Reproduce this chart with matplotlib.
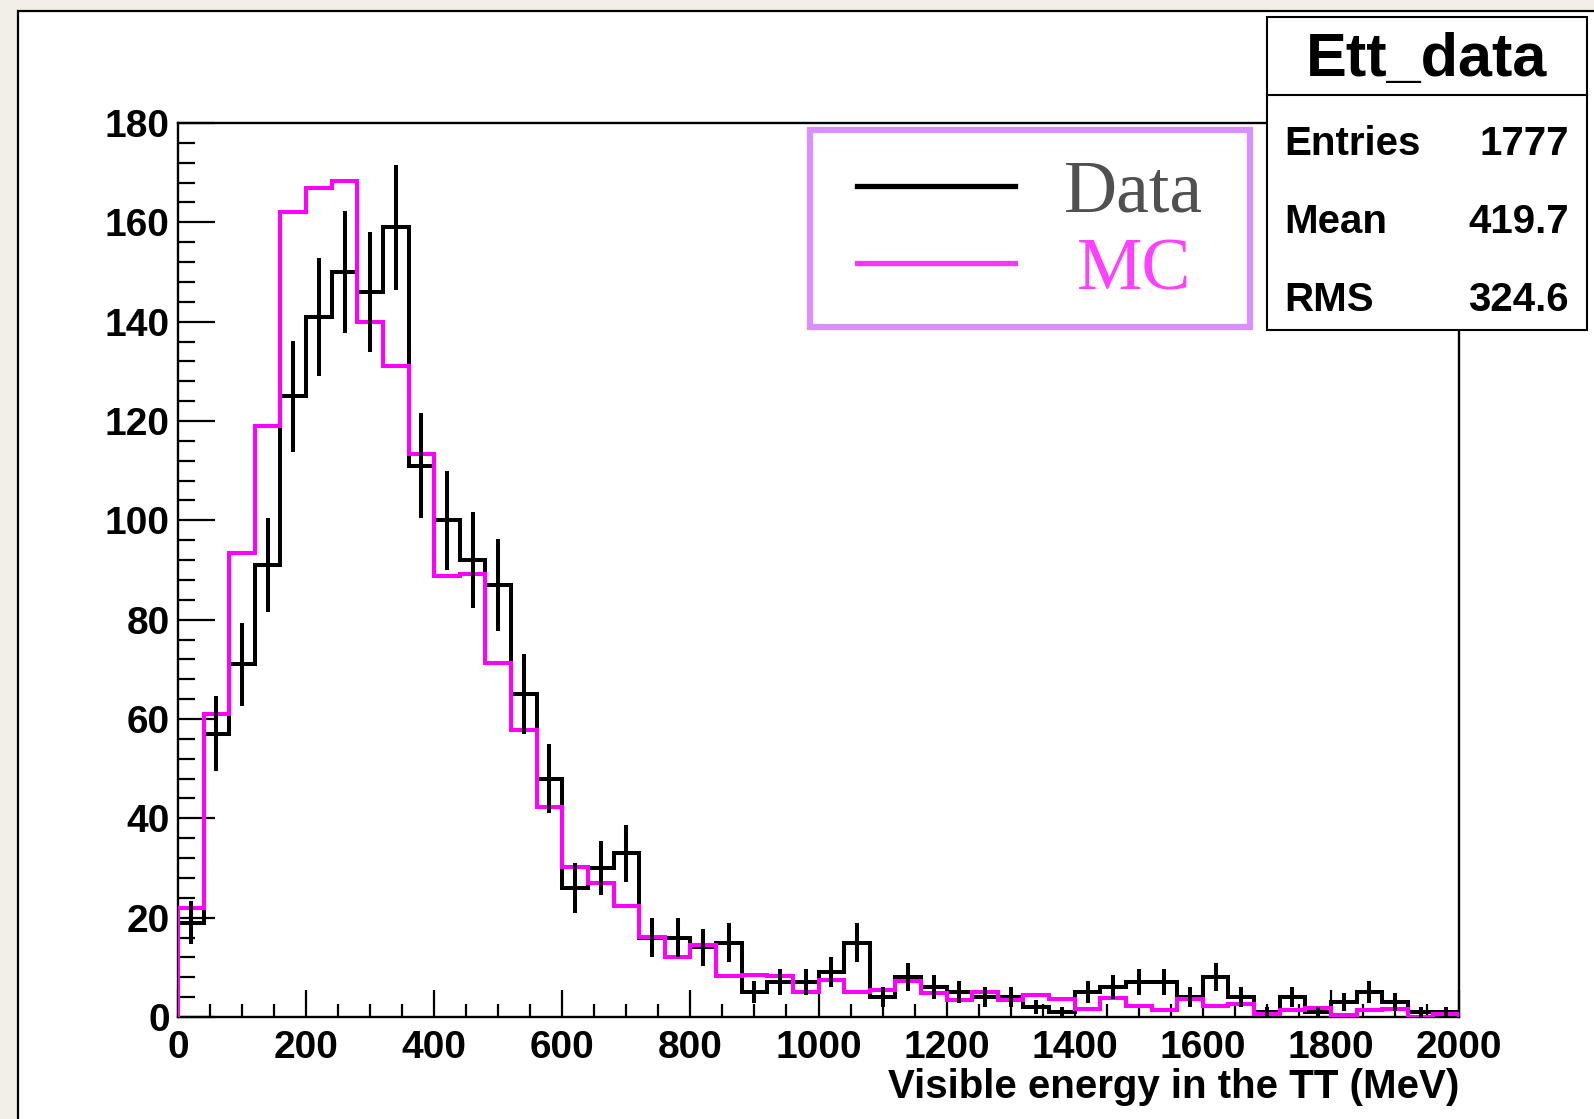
import numpy as np
import matplotlib.pyplot as plt
from matplotlib.patches import Rectangle
from matplotlib.lines import Line2D
from matplotlib.ticker import MultipleLocator

plt.rcParams['font.family'] = ['Liberation Sans', 'DejaVu Sans']
plt.rcParams['font.weight'] = 'bold'

# 50 bins of 40 MeV, 0 - 2000 MeV
bin_edges = np.arange(0, 2001, 40)

# data counts per bin
data_counts = [19, 57, 71, 91, 125, 141, 150, 146, 159, 111,
               100, 92, 87, 65, 48, 26, 30, 33, 16, 16,
               14, 15, 5, 7, 7, 9, 15, 4, 8, 6,
               5, 4, 4, 2, 1, 5, 6, 7, 7, 4,
               8, 4, 1, 4, 1, 3, 5, 3, 1, 1]

# MC, normalised to data
mc_counts = [22, 61, 93.4, 119, 162, 167, 168.4, 140, 131, 113.4,
             88.8, 89.2, 71.3, 57.8, 42.3, 30.2, 27.0, 22.3, 16.1, 12.1,
             14.4, 8.2, 8.5, 8.2, 5.0, 7.5, 5.0, 5.4, 7.3, 4.8,
             3.5, 5.0, 3.5, 4.4, 3.7, 1.7, 3.9, 2.3, 1.5, 3.6,
             2.3, 2.7, 0.7, 1.5, 1.9, 0.5, 1.5, 1.7, 0.0, 0.7]

stats_labels = ["Entries", "Mean", "RMS"]
stats_values = ["1777", "419.7", "324.6"]

W, H = 1594, 1119


def fx(px):
    return px / W


def fy(py):
    return 1 - py / H


fig = plt.figure(figsize=(W / 100, H / 100), dpi=100, facecolor='#f2efe9')

# white ROOT canvas
fig.add_artist(Rectangle((fx(18), -0.01), 1.0, fy(11) + 0.01, transform=fig.transFigure,
                         facecolor='white', edgecolor='black', lw=1.6, zorder=-1))

ax = fig.add_axes([fx(178), fy(1017), fx(1459) - fx(178), fy(123) - fy(1017)])
ax.set_facecolor('white')

ax.stairs(data_counts, bin_edges, color='black', lw=2.9, zorder=2)
ax.stairs(mc_counts, bin_edges, color='#ff00ff', lw=2.9, zorder=3)
centers = (bin_edges[:-1] + bin_edges[1:]) / 2
data_arr = np.array(data_counts, dtype=float)
ax.errorbar(centers, data_arr, yerr=np.sqrt(data_arr), fmt='none',
            ecolor='black', elinewidth=2.9, capsize=0, zorder=4)

ax.set_xlim(0, 2000)
ax.set_ylim(0, 180)
ax.xaxis.set_major_locator(MultipleLocator(200))
ax.xaxis.set_minor_locator(MultipleLocator(50))
ax.yaxis.set_major_locator(MultipleLocator(20))
ax.yaxis.set_minor_locator(MultipleLocator(4))
ax.tick_params(which='both', direction='in', top=False, right=False, width=1.6)
ax.tick_params(axis='y', which='major', length=26.6, pad=6, labelsize=28)
ax.tick_params(axis='y', which='minor', length=12)
ax.tick_params(axis='x', which='major', length=19.4, pad=9, labelsize=28)
ax.tick_params(axis='x', which='minor', length=9.4)
for s in ax.spines.values():
    s.set_linewidth(1.7)

ax.set_xlabel('Visible energy in the TT (MeV)', fontsize=29, fontweight='bold',
              loc='right', labelpad=2)

# legend box
fig.add_artist(Rectangle((fx(810), fy(327)), fx(1250) - fx(810), fy(130) - fy(327),
                         transform=fig.transFigure, facecolor='white',
                         edgecolor='#d98fff', lw=4.5, zorder=5))
fig.add_artist(Line2D([fx(857), fx(1015)], [fy(186), fy(186)], color='black',
                      lw=3.8, transform=fig.transFigure, zorder=6))
fig.add_artist(Line2D([fx(857), fx(1015)], [fy(263), fy(263)], color='#ff33ff',
                      lw=3.8, transform=fig.transFigure, zorder=6))
fig.text(fx(1134), fy(211), 'Data', family='Liberation Serif', fontweight='normal',
         fontsize=53, color='#505050', ha='center', va='baseline', zorder=7)
fig.text(fx(1134), fy(290), 'MC', family='Liberation Serif', fontweight='normal',
         fontsize=53, color='#ff40ff', ha='center', va='baseline', zorder=7)

# stats box
fig.add_artist(Rectangle((fx(1267), fy(330)), fx(1587) - fx(1267), fy(17) - fy(330),
                         transform=fig.transFigure, facecolor='white',
                         edgecolor='black', lw=1.5, zorder=5))
fig.add_artist(Line2D([fx(1267), fx(1587)], [fy(95), fy(95)], color='black',
                      lw=1.5, transform=fig.transFigure, zorder=6))
fig.text(fx(1427), fy(76), 'Ett_data', fontsize=44, fontweight='bold',
         ha='center', va='baseline', zorder=7)
for lab, val, base in zip(stats_labels, stats_values, [155, 233, 311]):
    fig.text(fx(1284), fy(base), lab, fontsize=29, fontweight='bold',
             ha='left', va='baseline', zorder=7)
    fig.text(fx(1569), fy(base), val, fontsize=29, fontweight='bold',
             ha='right', va='baseline', zorder=7)

fig.savefig('out.png', dpi=100, facecolor=fig.get_facecolor())
